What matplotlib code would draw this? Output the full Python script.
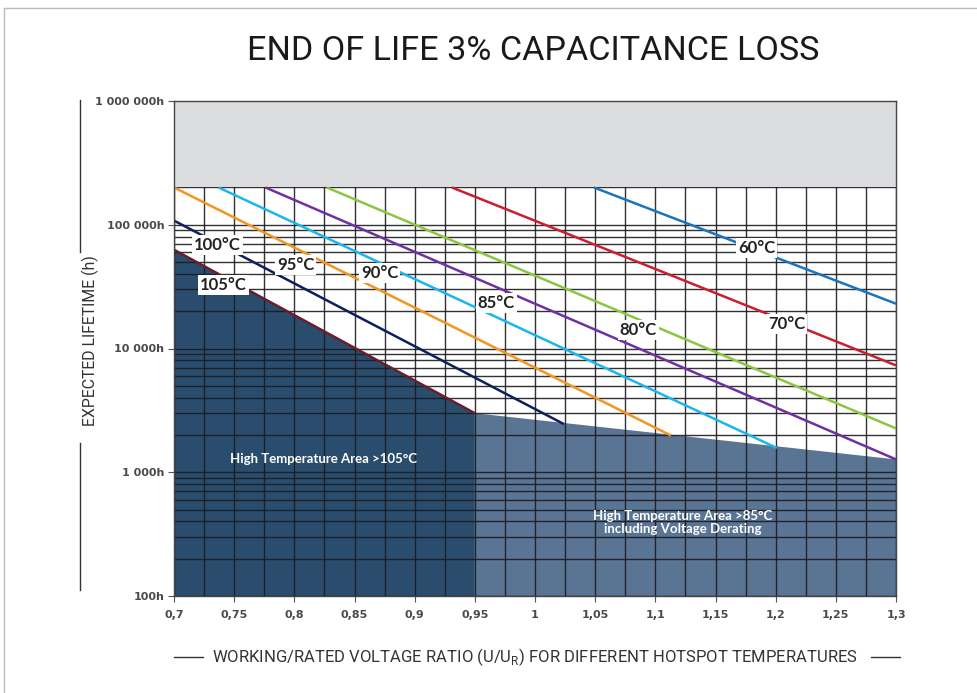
import matplotlib.pyplot as plt
import numpy as np
from matplotlib.lines import Line2D
from matplotlib.ticker import FixedLocator, LogLocator, NullFormatter

# --- data ---
temps = ["105°C", "100°C", "95°C", "90°C", "85°C", "80°C", "70°C", "60°C"]
x_start = [0.70, 0.70, 0.70, 0.737, 0.776, 0.827, 0.931, 1.049]
x_end = [0.95, 1.024, 1.113, 1.201, 1.30, 1.30, 1.30, 1.30]
life_start = [62800, 108000, 200000, 200000, 200000, 200000, 200000, 200000]
life_end = [3000, 2450, 1980, 1570, 1270, 2260, 7300, 23000]
colors = ["#6b1d2a", "#0d1f5c", "#f7941d", "#1cb5ec", "#7030a0", "#8cc63f", "#c8202f", "#1b75bc"]

# label anchor points (data coords)
label_x = [0.741, 0.736, 0.801, 0.871, 0.968, 1.086, 1.209, 1.184]
label_y = [32800, 69000, 47000, 41000, 23500, 14000, 15900, 65300]

# derating boundary of the >85°C area
derate_x = [0.95, 1.30]
derate_y = [3000, 1270]

x_ticks = [0.7, 0.75, 0.8, 0.85, 0.9, 0.95, 1.0, 1.05, 1.1, 1.15, 1.2, 1.25, 1.3]
x_labels = ["0,7", "0,75", "0,8", "0,85", "0,9", "0,95", "1", "1,05", "1,1", "1,15", "1,2", "1,25", "1,3"]
y_ticks = [100, 1000, 10000, 100000, 1000000]
y_labels = ["100h", "1 000h", "10 000h", "100 000h", "1 000 000h"]

plt.rcParams["font.family"] = ["Lato", "DejaVu Sans"]
plt.rcParams["mathtext.fontset"] = "custom"
plt.rcParams["mathtext.rm"] = "Roboto"

W, H = 977, 693
fig = plt.figure(figsize=(W / 100, H / 100), dpi=100)
ax = fig.add_axes([174 / W, 1 - 596 / H, 722 / W, 495 / H])
ax.set_yscale("log")
ax.set_xlim(0.7, 1.3)
ax.set_ylim(100, 1e6)

# shaded areas
dark = "#2a4d6e"
light = "#5a7594"
ax.fill([0.7, 0.7, x_end[0], x_end[0]], [100, life_start[0], life_end[0], 100],
        color=dark, lw=0, zorder=1)
ax.fill([derate_x[0], derate_x[0], derate_x[1], derate_x[1]],
        [100, derate_y[0], derate_y[1], 100], color=light, lw=0, zorder=1)

# grid
ax.xaxis.set_major_locator(FixedLocator(x_ticks))
ax.xaxis.set_minor_locator(FixedLocator(np.arange(0.7, 1.3001, 0.025)))
ax.yaxis.set_major_locator(FixedLocator(y_ticks))
ax.yaxis.set_minor_locator(LogLocator(base=10, subs=np.arange(2, 10), numticks=20))
ax.yaxis.set_minor_formatter(NullFormatter())
ax.grid(which="both", color="#1a1a20", lw=1.0, alpha=0.9, zorder=2)
ax.set_axisbelow(False)
for gl in ax.get_xgridlines() + ax.get_ygridlines():
    gl.set_zorder(2)
ax.tick_params(which="minor", length=0)

# grey zone above 200 000h
ax.axhspan(200000, 1e6, color="#dcdddf", lw=0, zorder=3)

# temperature lines
for i, t in enumerate(temps):
    ax.plot([x_start[i], x_end[i]], [life_start[i], life_end[i]],
            color=colors[i], lw=1.8, zorder=4, solid_capstyle="butt")
    ax.text(label_x[i], label_y[i], t, ha="center", va="center",
            fontsize=12, fontweight="bold", color="#222222", zorder=6,
            bbox=dict(boxstyle="square,pad=0.12", fc="white", ec="none"))

ax.text(0.824, 1270, "High Temperature Area >105°C", ha="center", va="center",
        color="white", fontsize=9.5, fontweight="bold", zorder=6)
ax.text(1.123, 395, "High Temperature Area >85°C\nincluding Voltage Derating",
        ha="center", va="center", color="white", fontsize=9.5,
        fontweight="bold", linespacing=1.1, zorder=6)

ax.set_xticklabels(x_labels)
ax.set_yticklabels(y_labels)
ax.tick_params(which="major", length=4, color="#555555", labelsize=8,
               labelcolor="#4a4a4a")
ax.tick_params(axis="x", pad=6)
ax.tick_params(axis="y", pad=3)
for lab in ax.get_xticklabels() + ax.get_yticklabels():
    lab.set_fontweight("bold")
    lab.set_family(["DejaVu Sans"])
for s in ax.spines.values():
    s.set_color("#444444")
    s.set_linewidth(1)
    s.set_zorder(5)

# title and axis labels
renderer = fig.canvas.get_renderer()


def fit_width(txt, target_px, horizontal=True):
    bb = txt.get_window_extent(renderer=renderer)
    size = bb.width if horizontal else bb.height
    txt.set_fontsize(txt.get_fontsize() * target_px / size)


title = fig.text(533 / W, 1 - 51 / H, "END OF LIFE 3% CAPACITANCE LOSS", ha="center",
                 va="center", fontsize=26, color="#1a1a1a",
                 family=["Roboto", "DejaVu Sans"])
fit_width(title, 572)
ylab = fig.text(90 / W, 1 - 341 / H, "EXPECTED LIFETIME (h)", rotation=90,
                ha="center", va="center", fontsize=11, color="#333333",
                family=["Roboto", "DejaVu Sans"])
fit_width(ylab, 172, horizontal=False)
xlab = fig.text(535 / W, 1 - 657 / H,
                "WORKING/RATED VOLTAGE RATIO (U/U$_{\\mathrm{R}}$) FOR DIFFERENT HOTSPOT TEMPERATURES",
                ha="center", va="center", fontsize=11.5, color="#333333",
                family=["Roboto", "DejaVu Sans"])
fit_width(xlab, 646)


def fig_line(x0, y0, x1, y1, color="#333333", lw=1.0):
    fig.add_artist(Line2D([x0 / W, x1 / W], [1 - y0 / H, 1 - y1 / H],
                          color=color, lw=lw))


fig_line(80, 100, 80, 252)
fig_line(80, 443, 80, 590)
fig_line(174, 657, 203, 657)
fig_line(871, 657, 900, 657)
# outer frame
fig_line(4, 8, 977, 8, color="#bbbbbb")
fig_line(4, 8, 4, 693, color="#bbbbbb")

fig.savefig("out.png", dpi=100)
